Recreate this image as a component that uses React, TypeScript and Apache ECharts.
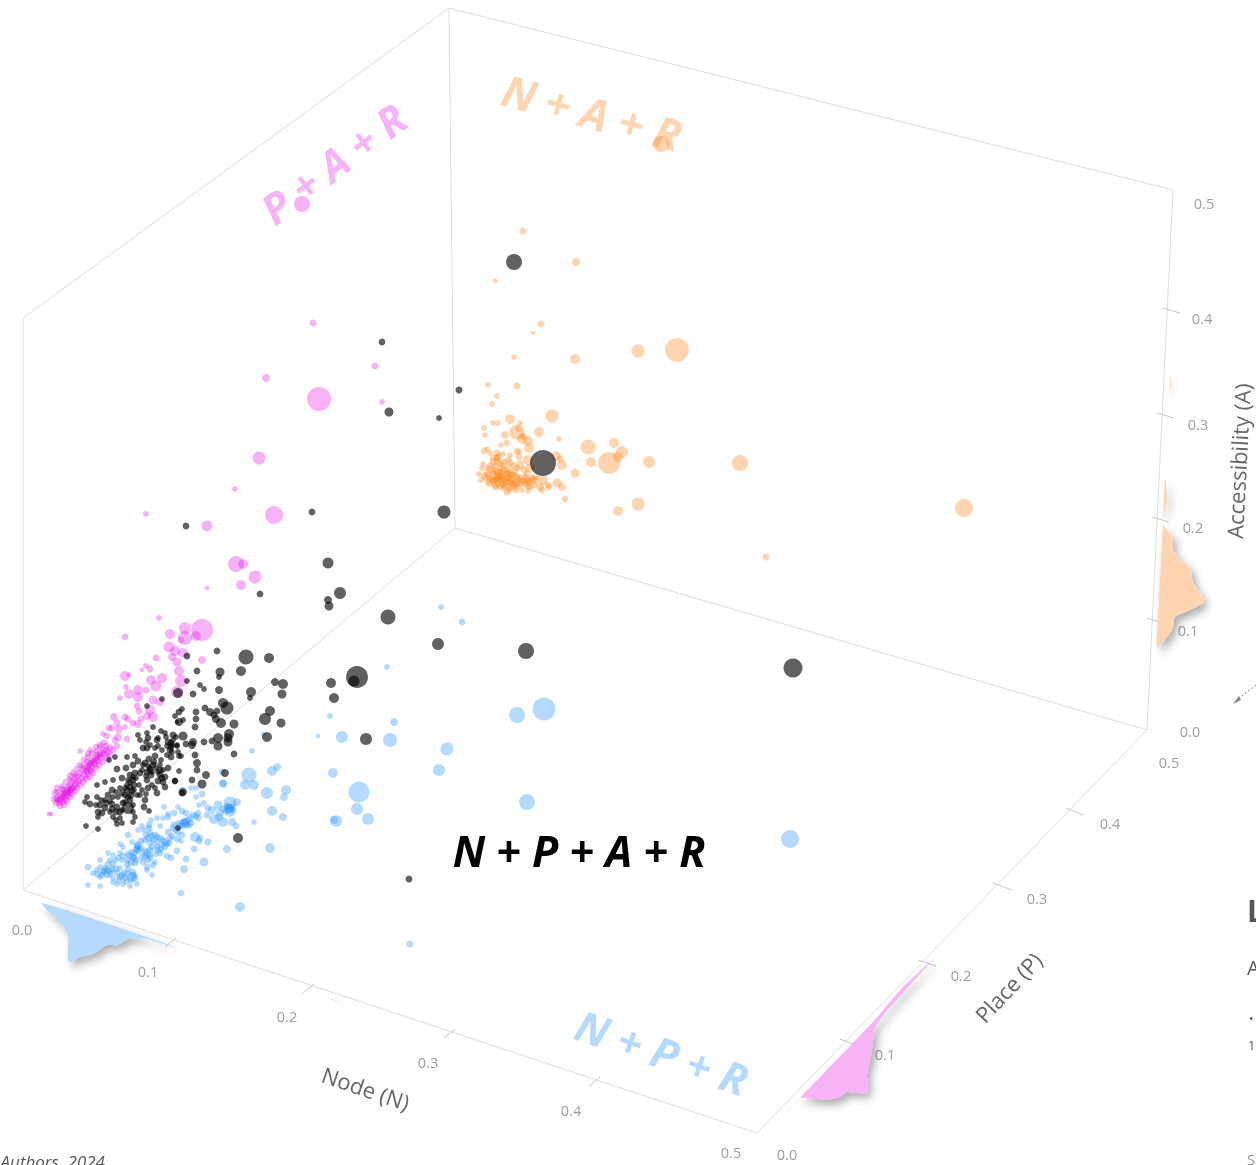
import React, { useEffect, useRef } from "react";
import * as echarts from "echarts";

// Picture-plane readings of the projected cube: [across, down, marker diameter]
const bluePoints = [
  [249,775,15],[245,785,9],[254,785,9],[272,771,9],[277,767,7],[286,790,9],[284,797,7],[267,793,12],[272,811,9],[283,817,7],[254,822,4],[270,848,9],[227,849,7],[204,862,8],[184,869,7],[186,859,5],[194,849,5],[208,842,6],[177,851,5],[240,907,9],[181,893,5],[223,783,7],[222,772,5],[182,790,5],[191,788,4],[196,788,4],[202,794,5],[196,797,4],[204,803,4],[199,805,4],[164,807,4],[178,807,4],[168,814,4],[174,813,5],[182,811,5],[186,813,5],[198,813,5],[198,818,6],[207,815,5],[208,808,5],[212,810,7],[218,805,8],[230,803,13],[237,802,7],[229,809,10],[230,812,10],[220,813,7],[214,819,9],[223,822,10],[232,822,7],[236,826,5],[219,817,7],[185,823,8],[182,823,5],[189,825,6],[178,823,4],[174,825,5],[168,817,5],[163,818,4],[157,818,4],[151,820,4],[149,825,5],[142,826,4],[138,830,4],[144,830,4],[149,828,5],[160,826,4],[168,832,5],[173,828,5],[195,837,9],[200,838,5],[199,841,5],[182,835,5],[177,839,5],[181,841,4],[128,835,5],[152,836,6],[157,837,5],[165,842,7],[170,838,5],[145,840,5],[141,841,5],[132,842,4],[120,844,4],[123,847,4],[138,845,7],[150,843,5],[157,847,5],[165,847,5],[137,850,6],[147,853,7],[128,854,5],[108,853,4],[113,855,4],[120,853,4],[133,857,5],[160,853,5],[167,856,5],[171,858,5],[148,860,5],[155,862,4],[100,860,4],[110,860,4],[115,860,4],[122,860,4],[128,860,5],[135,863,6],[153,865,5],[147,867,5],[88,867,5],[100,867,4],[105,868,5],[110,871,6],[120,868,4],[128,869,5],[133,872,5],[147,870,4],[97,870,4],[93,873,4],[102,875,5],[107,875,5],[120,877,6],[132,877,9],[152,875,4],[100,877,4],[113,878,4],[125,878,5],[135,878,5],[117,884,4],[123,884,4],[130,886,4],[137,884,4],[88,885,4],[100,886,4],[113,882,4],[137,848,6],[185,822,7],[229,808,8],
  [137,846,5],[139,851,5],[135,853,5],[141,848,5],[132,852,5],[134,858,5],[130,856,5],[136,860,5],[131,863,5],[127,864,5],[145,851,5],[149,855,5],[150,850,5],[145,856,5],[142,857,5],[163,840,5],[167,844,5],[162,845,5],[169,843,5],[160,838,5],[155,835,5],[150,833,5],[153,840,5],[148,838,5],[146,835,5],[157,842,5],[172,836,5],[184,821,5],[187,825,5],[183,826,5],[188,820,5],[191,823,5],[180,826,5],[176,830,5],[178,832,5],[193,815,5],[190,818,5],[196,816,5],[107,870,5],[110,874,5],[104,871,5],[112,869,5],[117,873,5],[119,880,5],[122,875,5],[116,869,5],[124,873,5],[128,874,5],[131,880,5],[134,875,5],[126,881,5],[103,872,5],[97,874,5],[227,806,6],[232,807,6],[226,811,6],[233,810,6],[223,809,6],[152,847,5],[158,850,5],[155,854,5],[161,849,5],[143,862,5],[150,858,5],[123,856,5],[118,858,5],[113,864,5],[108,864,5],
  [441,607,4],[462,622,5],[387,667,4],[394,722,7],[517,715,16],[544,709,23],[342,737,12],[390,740,14],[330,716,4],[318,736,3],[447,749,13],[439,770,12],[333,773,10],[359,792,21],[527,802,16],[336,821,12],[334,820,7],[357,809,12],[368,819,12],[790,839,18],[410,944,6],[252,751,4],[263,734,3],[223,784,7],
];
const pinkPoints = [
  [202,630,22],[185,628,12],[185,638,14],[196,636,9],[170,634,10],[181,640,5],[159,618,4],[125,637,5],[169,647,11],[175,651,9],[183,653,9],[172,657,7],[177,662,8],[202,660,7],[156,658,5],[146,666,4],[142,670,3],[150,669,6],[125,676,10],[129,675,3],[179,671,9],[181,681,12],[162,678,9],[151,680,10],[156,686,11],[126,687,4],[138,690,9],[146,690,5],[129,694,9],[138,697,10],[120,698,4],[177,692,12],[153,700,8],[160,702,7],[137,706,5],[139,711,6],[150,710,9],[153,717,10],[147,716,7],[114,717,7],[125,717,5],[128,719,5],[133,723,5],[138,724,7],[141,719,6],[117,723,6],[112,728,5],[119,729,7],[109,728,5],[125,727,4],[103,734,4],[107,736,5],[118,737,7],[115,740,5],[127,739,5],[117,746,5],[90,750,4],[80,751,4],
  [110,748,5],[106,746,5],[103,750,5],[108,752,5],[100,753,5],[105,755,5],[97,755,5],[101,758,5],[95,758,5],[98,761,5],[92,760,5],[95,764,5],[90,763,5],[87,762,5],[92,767,5],[88,766,5],[85,768,5],[90,770,5],[83,770,5],[87,772,5],[91,771,5],[80,773,5],[84,775,5],[88,775,5],[78,776,5],[82,778,5],[76,778,5],[79,781,5],[74,780,5],[77,783,5],[72,782,5],[75,785,5],[70,785,5],[73,788,5],[68,787,5],[71,790,5],[67,790,5],[64,790,5],[69,793,5],[65,793,5],[62,793,5],[67,796,5],[63,796,5],[60,796,5],[65,799,5],[61,799,5],[58,800,5],[63,802,5],[59,803,5],[57,798,5],[88,757,4],[82,766,4],[75,775,4],[70,779,4],[100,747,4],[96,751,4],[62,786,4],[57,792,4],[49,814,3],[51,814,3],
  [113,750,5],[110,755,5],[107,758,5],[103,762,5],[99,765,5],[96,768,5],[93,773,5],[90,777,5],[86,779,5],[83,782,5],[80,785,5],[77,788,5],[75,791,5],[72,794,5],[70,797,5],[67,801,5],[64,805,5],[60,806,5],[104,743,5],[100,745,5],[96,747,5],[92,753,5],[88,754,5],[84,760,5],[80,765,5],[77,769,5],[73,773,5],[70,776,5],[66,782,5],[62,789,5],[57,788,5],[55,793,5],[54,799,5],[56,803,5],[98,757,5],[96,760,5],[94,762,5],[100,755,5],[92,763,5],[90,765,5],[88,768,5],[86,771,5],[70,790,5],[68,792,5],[66,794,5],[64,797,5],[72,788,5],[60,800,5],[103,753,5],[106,750,5],
  [302,204,16],[313,323,5],[375,366,5],[266,378,7],[319,399,24],[382,402,4],[259,458,13],[235,489,4],[274,515,18],[146,514,4],[207,526,11],[236,564,16],[243,564,9],[255,577,13],[241,585,9],[207,588,3],
];
const orangePoints = [
  [552,416,13],[510,419,9],[517,432,15],[539,432,9],[488,385,4],[517,386,5],[497,396,4],[492,404,4],[493,423,4],[498,423,4],[484,428,4],[485,435,4],[520,423,4],[518,429,4],[505,435,7],[523,436,6],[522,439,9],[528,441,9],[507,443,5],[501,445,4],[559,439,4],[529,448,10],[588,447,15],[614,443,10],[622,452,12],[618,457,10],[609,463,22],[591,462,9],[649,462,12],[556,456,9],[560,459,6],[562,465,9],[575,473,8],[557,483,8],[562,487,7],[565,499,5],[638,504,13],[618,511,9],[528,460,10],[530,468,8],[543,480,10],[540,487,7],[542,490,6],[548,485,5],[549,487,5],[536,477,6],[517,451,6],[519,452,4],[519,457,5],[520,465,8],[484,451,5],[487,449,4],[490,453,4],[497,453,5],[503,454,4],[510,455,4],[497,458,5],[503,462,5],[510,463,7],[483,464,4],[482,468,4],[479,474,4],[481,480,4],[488,468,4],[495,466,5],[500,468,5],[507,470,5],[515,472,5],[488,475,5],[493,473,5],[498,475,5],[503,477,5],[510,478,5],[517,477,5],[525,477,5],[532,478,5],[488,482,5],[493,481,5],[497,478,5],[502,480,5],[508,482,5],[515,482,5],[522,481,5],[528,482,5],[535,481,5],[495,485,5],[502,485,4],[512,485,5],[518,486,4],[530,487,5],[504,488,4],[509,490,4],[515,488,4],[522,490,4],[528,491,4],[498,472,5],[502,473,5],[507,474,5],[510,475,5],[499,477,5],[505,480,5],[512,480,5],[497,480,5],[497,458,5],
  [492,470,5],[495,471,5],[500,472,5],[504,470,5],[509,472,5],[512,474,5],[496,476,5],[500,476,5],[505,476,5],[508,478,5],[514,476,5],[518,480,5],[520,478,5],[524,481,5],[527,480,5],[530,481,5],[533,479,5],[490,478,5],[492,479,5],[494,480,5],[500,480,5],[503,483,5],[506,483,5],[510,482,5],[513,484,5],[516,484,5],[520,484,5],[525,484,5],[498,483,5],[490,484,5],[496,487,5],[500,487,5],[505,486,5],[510,488,5],[486,478,5],[484,476,5],[487,472,5],[490,466,5],[493,462,5],[497,462,5],[500,464,5],[504,466,5],[493,458,5],[499,456,5],[508,460,5],[513,466,5],[517,468,5],[524,470,5],[527,474,5],[534,485,5],[528,486,5],[516,490,5],[507,492,5],
  [661,144,16],[523,231,5],[576,262,7],[495,281,3],[677,350,24],[638,351,13],[541,324,6],[533,333,3],[575,359,10],[514,357,4],[740,463,16],[964,508,18],[766,557,6],
];
const blackPoints = [
  [246,657,15],[269,658,9],[217,651,5],[187,656,5],[197,671,5],[220,672,8],[219,677,4],[241,671,10],[187,681,4],[200,685,4],[204,689,4],[219,690,7],[251,692,9],[250,698,4],[275,682,7],[283,684,9],[282,694,8],[178,693,10],[193,694,5],[223,703,10],[227,708,13],[270,711,9],[265,719,12],[281,723,8],[205,708,5],[210,712,7],[217,711,5],[214,715,6],[216,719,7],[221,723,9],[234,724,8],[196,712,5],[196,719,5],[195,727,5],[182,709,4],[179,712,5],[175,716,4],[179,722,7],[183,720,4],[177,722,3],[229,734,9],[228,738,8],[228,742,8],[218,738,9],[218,746,8],[212,741,5],[204,742,5],[267,737,9],[234,754,5],[183,736,8],[173,735,6],[193,742,7],[192,745,7],[186,744,5],[177,745,4],[171,743,5],[171,747,5],[178,752,4],[181,756,4],[195,755,5],[171,757,5],[197,763,7],[197,770,5],[179,771,4],[206,775,7],[225,773,7],[192,780,5],[202,784,8],[175,781,4],[182,793,6],
  [147,706,4],[162,699,4],[153,727,4],[138,735,4],[147,733,4],[161,731,4],[165,733,4],[140,740,4],[148,738,5],[157,740,5],[168,742,5],[143,748,5],[147,748,5],[158,746,4],[170,750,5],[177,746,4],[167,755,4],[179,756,4],[109,760,4],[115,757,4],[135,756,4],[127,757,4],[155,756,6],[149,759,5],[145,763,5],[138,761,5],[133,765,5],[126,768,5],[117,769,5],[153,765,5],[161,760,4],[168,768,5],[160,770,5],[165,777,5],[162,778,6],[147,772,5],[151,775,5],[140,773,5],[135,773,5],[133,780,5],[134,785,5],[147,780,5],[158,781,5],[175,781,5],[165,787,5],[148,788,5],[157,793,5],[132,791,5],[127,790,5],[122,793,5],[128,797,5],[112,790,5],[105,782,4],[113,780,4],[122,778,5],[97,785,4],[108,795,5],[97,797,4],[87,797,4],[85,802,4],[90,804,5],[100,805,5],[105,808,5],[98,812,5],[102,813,5],[112,804,5],[117,807,5],[116,812,5],[128,808,12],[123,803,5],[130,800,5],[145,800,5],[144,807,5],[149,811,4],[113,817,4],[98,817,4],[116,820,4],[120,818,4],[135,817,4],[133,822,4],[117,824,4],[122,823,4],[86,826,4],[98,829,4],[178,828,4],[130,787,5],[131,795,5],[125,795,5],[130,775,5],[160,775,5],[163,782,5],[154,762,5],[150,770,5],[106,803,5],[120,812,5],[112,809,5],
  [130,782,4],[133,777,4],[128,780,4],[136,778,4],[150,768,4],[152,772,4],[148,766,4],[156,768,4],[158,772,4],[160,765,4],[163,770,4],[146,776,4],[142,770,4],[143,765,4],[127,785,4],[125,788,4],[134,790,4],[137,795,4],[120,788,4],[116,792,4],[118,797,4],[113,797,4],[110,801,4],[105,800,4],[101,800,4],[96,805,4],[110,812,4],[125,802,4],[133,805,4],[133,812,4],[122,810,4],[158,738,4],[166,737,4],[172,745,4],[167,746,4],[162,750,4],[155,748,4],[150,745,4],[172,752,4],[173,740,4],[176,737,4],[146,742,4],[139,785,4],[142,790,4],[146,794,4],[152,785,4],[155,788,4],[140,795,4],
  [238,838,9],[183,792,7],[514,262,16],[543,463,26],[382,342,5],[389,412,8],[459,390,6],[439,418,4],[444,512,13],[312,512,5],[186,526,5],[328,563,11],[340,593,12],[328,600,7],[329,606,8],[260,594,5],[388,617,15],[438,644,12],[526,651,16],[793,668,19],[357,677,22],[354,681,11],[331,683,10],[334,698,9],[366,739,12],[409,879,6],
];

const nDensity = [[42,903],[50,913],[63,925],[68,935],[68,960],[71,962],[80,957],[93,954],[107,945],[117,945],[128,939],[147,939],[160,943],[177,948],[147,937]];
const nDensityTail = [[325,997],[335,1000],[350,1005],[335,1001]];
const pDensity = [[785,1113],[800,1098],[810,1098],[827,1100],[840,1097],[847,1092],[867,1093],[867,1073],[871,1057],[875,1028],[885,1013],[903,993],[917,977],[936,957],[903,987],[873,1022],[803,1095]];
const pDensityTail = [[963,928],[978,915],[966,926]];
const aDensity = [[1165,478],[1167,500],[1163,523],[1172,537],[1173,550],[1180,560],[1190,568],[1193,582],[1203,598],[1203,603],[1190,610],[1175,617],[1172,630],[1158,647],[1157,640],[1163,523]];
const aDensityTail = [[1170,373],[1172,385],[1171,395],[1169,385]];

const frameSegments = [
  [23,890,757,1133],[757,1133,1147,730],[1147,730,455,528],[455,528,23,890],
  [449,8,455,528],[23,318,23,890],[23,318,449,8],[449,8,1173,190],[1173,190,1147,730],
];
const tickSegments = [
  [165,947,176,938],[303,993,314,984],[444,1038,455,1029],[589,1086,600,1077],
  [840,1039,858,1046],[918,960,936,966],[993,883,1012,890],[1066,808,1083,815],
  [1147,618,1165,624],[1152,517,1169,522],[1157,413,1174,418],[1163,308,1180,313],
];
const tickLabels: [string, number, number][] = [
  ["0.0",22,929],["0.1",148,971],["0.2",287,1016],["0.3",428,1062],["0.4",571,1110],["0.5",731,1152],
  ["0.0",787,1154],["0.1",885,1054],["0.2",961,975],["0.3",1037,898],["0.4",1110,823],["0.5",1169,762],
  ["0.0",1190,731],["0.1",1188,630],["0.2",1193,527],["0.3",1198,424],["0.4",1202,318],["0.5",1204,203],
];
const axisTitles: [string, number, number, number][] = [
  ["Node (N)",366,1088,-19],["Place (P)",1008,987,47],["Accessibility (A)",1238,461,87],
];
const planeLabels: [string, number, number, number, string, number][] = [
  ["N + P + A + R",579,850,0,"#000000",43],
  ["N + P + R",662,1052,-19,"#b5dafe",43],
  ["P + A + R",333,163,37,"#f7b3f7",42],
  ["N + A + R",592,112,-15,"#ffd4b0",44],
];
const clippedTexts: [string, number, number, number, string, string, string][] = [
  ["Authors, 2024",105,1161,17,"#555555","italic","right"],
  ["L",1247,910,30,"#555555","bold","left"],
  ["A",1247,967,20,"#555555","normal","left"],
  ["•",1249,1018,12,"#555555","normal","left"],
  ["1",1248,1045,13,"#555555","normal","left"],
  ["S",1247,1159,15,"#999999","normal","left"],
];

const FONT = '"Open Sans", "Noto Sans", sans-serif';

function scatter(name: string, data: number[][], color: string, opacity: number) {
  return {
    name, type: "scatter", data, silent: true, clip: false,
    symbolSize: (v: number[]) => (v[2] <= 5 ? v[2] + 1.8 : v[2] <= 9 ? v[2] + 1 : v[2]),
    itemStyle: { color, opacity, borderWidth: 0 },
  };
}
function segments(name: string, data: number[][], stroke: string) {
  return {
    name, type: "custom", data, silent: true, clip: false,
    encode: { x: [0, 2], y: [1, 3] },
    renderItem: (_: any, api: any) => {
      const a = api.coord([api.value(0), api.value(1)]);
      const b = api.coord([api.value(2), api.value(3)]);
      return { type: "line", shape: { x1: a[0], y1: a[1], x2: b[0], y2: b[1] }, style: { stroke, lineWidth: 1, fill: "none" } };
    },
  };
}
function density(name: string, data: number[][], fill: string, smooth = 0.25, blur = 8, shadow = "rgba(0,0,0,0.32)") {
  return {
    name, type: "custom", data, silent: true, clip: false,
    encode: { x: 0, y: 1 },
    renderItem: (p: any, api: any) => {
      if (p.dataIndex !== 0) return null;
      return {
        type: "polygon",
        shape: { points: data.map((d) => api.coord(d)), smooth },
        style: { fill, shadowBlur: blur, shadowColor: shadow, shadowOffsetX: 4, shadowOffsetY: 5 },
      };
    },
  };
}

export default function App() {
  const ref = useRef<HTMLDivElement>(null);
  useEffect(() => {
    const chart = echarts.init(ref.current!, undefined, { renderer: "svg" });
    const text = (t: string, x: number, y: number, deg: number, fill: string, fontSize: number, extra: any = {}) => ({
      type: "text", x, y, rotation: (deg * Math.PI) / 180, silent: true,
      style: { text: t, fill, fontSize, fontFamily: FONT, textAlign: "center", textVerticalAlign: "middle", ...extra },
    });
    chart.setOption({
      animation: false,
      backgroundColor: "#ffffff",
      grid: { left: 0, right: 0, top: 0, bottom: 0 },
      xAxis: { type: "value", min: 0, max: 1256, show: false },
      yAxis: { type: "value", min: 0, max: 1165, inverse: true, show: false },
      series: [
        segments("frame", frameSegments, "#dedede"),
        segments("ticks", tickSegments, "#c9c9c9"),
        density("N density", nDensity, "#b5dafe"),
        density("N density tail", nDensityTail, "#d8ebff", 0, 6, "rgba(0,0,0,0.12)"),
        density("P density", pDensity, "#f6b3f6", 0.12),
        density("P density tail", pDensityTail, "#f9d5f9", 0, 6, "rgba(0,0,0,0.12)"),
        density("A density", aDensity, "#ffd4b0"),
        density("A density tail", aDensityTail, "#ffe6d0", 0, 6, "rgba(0,0,0,0.12)"),
        scatter("N + P + R", bluePoints, "#1e90ff", 0.33),
        scatter("P + A + R", pinkPoints, "#e600e6", 0.3),
        scatter("N + A + R", orangePoints, "#ff7f0e", 0.33),
        scatter("N + P + A + R", blackPoints, "#000000", 0.62),
      ],
      graphic: [
        ...tickLabels.map(([t, x, y]) => text(t, x, y, 0, "#a0a0a0", 14.5)),
        ...axisTitles.map(([t, x, y, d]) => text(t, x, y, d, "#666666", 22)),
        ...planeLabels.map(([t, x, y, d, c, s]) => text(t, x, y, d, c, s, { fontWeight: "bold", fontStyle: "italic" })),
        ...clippedTexts.map(([t, x, y, s, c, st, al]) =>
          text(t, x, y, 0, c, s, { textAlign: al, fontWeight: st === "bold" ? "bold" : "normal", fontStyle: st === "italic" ? "italic" : "normal" })),
        { type: "line", silent: true, shape: { x1: 1256, y1: 685, x2: 1237, y2: 700 }, style: { stroke: "#888888", lineWidth: 1, lineDash: [2, 2] } },
        { type: "polygon", silent: true, shape: { points: [[1233, 704], [1239, 696], [1241, 700]] }, style: { fill: "#888888" } },
      ],
    });
    return () => chart.dispose();
  }, []);
  return (
    <div
      ref={ref}
      style={{ position: "absolute", left: 0, top: 0, width: 1256, height: 1165, overflow: "hidden", filter: "blur(0.5px)" }}
    />
  );
}
